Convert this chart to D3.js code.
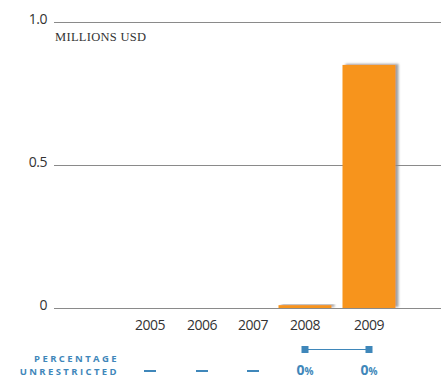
<!DOCTYPE html>
<html>
<head>
<meta charset="utf-8">
<script src="https://cdn.jsdelivr.net/npm/d3@7"></script>
<style>
  body { margin: 0; background: #fff; }
  svg { display: block; }
  .tick-label { font-family: "Open Sans", sans-serif; font-size: 14px; fill: #333; letter-spacing: -0.5px; }
</style>
</head>
<body>
<div id="chart"></div>
<script>
// data
const years = ["2005", "2006", "2007", "2008", "2009"];
const funding = [0, 0, 0, 0.01, 0.85];       // millions USD
const unrestricted = [null, null, null, 0, 0]; // percentage
const yTicks = [0, 0.5, 1.0];

const width = 441, height = 378;
const svg = d3.select("#chart").append("svg")
  .attr("width", width)
  .attr("height", height);

// shadow for the bars
const defs = svg.append("defs");
const f = defs.append("filter").attr("id", "shadow")
  .attr("x", "-20%").attr("y", "-20%").attr("width", "150%").attr("height", "140%");
f.append("feDropShadow")
  .attr("dx", 3).attr("dy", -1)
  .attr("stdDeviation", 1.3)
  .attr("flood-color", "#888")
  .attr("flood-opacity", 0.8);

const x = d3.scaleOrdinal()
  .domain(years)
  .range([150, 202, 253, 305, 369]);
const barW = 53;

const y = d3.scaleLinear()
  .domain([0, 1])
  .range([308, 22]);

// gridlines + labels
svg.selectAll(".grid")
  .data(yTicks)
  .enter().append("line")
  .attr("x1", 54).attr("x2", width)
  .attr("y1", d => y(d) + 0.5).attr("y2", d => y(d) + 0.5)
  .attr("stroke", "#8a8a8a")
  .attr("stroke-width", 1);

svg.selectAll(".ylab")
  .data(yTicks)
  .enter().append("text")
  .attr("class", "tick-label")
  .attr("x", 47)
  .attr("y", d => y(d) + 2)
  .attr("text-anchor", "end")
  .text(d => d === 0 ? "0" : d.toFixed(1));

svg.append("text")
  .attr("x", 55)
  .attr("y", 41)
  .attr("font-family", "Liberation Serif, serif")
  .attr("font-size", 12.5)
  .attr("letter-spacing", "0.3px")
  .attr("fill", "#333")
  .text("MILLIONS USD");

// bars
const data = years.map((d, i) => ({ year: d, value: funding[i], pct: unrestricted[i] }));

svg.selectAll(".bar")
  .data(data.filter(d => d.value > 0))
  .enter().append("rect")
  .attr("class", "bar")
  .attr("x", d => x(d.year) - barW / 2)
  .attr("y", d => y(d.value))
  .attr("width", barW)
  .attr("height", d => y(0) - y(d.value))
  .attr("fill", "#f7941d")
  .attr("filter", "url(#shadow)");

// x labels
svg.selectAll(".xlab")
  .data(years)
  .enter().append("text")
  .attr("class", "tick-label")
  .attr("x", d => x(d))
  .attr("y", 330)
  .attr("text-anchor", "middle")
  .text(d => d);

// percentage unrestricted row
const blue = "#3f87ba";
const lab = svg.append("text")
  .attr("font-family", "Open Sans, sans-serif")
  .attr("font-weight", "bold")
  .attr("font-size", 9.5)
  .attr("letter-spacing", "2.4px")
  .attr("fill", blue)
  .attr("text-anchor", "end");
lab.append("tspan").attr("x", 119).attr("y", 362).text("PERCENTAGE");
lab.append("tspan").attr("x", 119).attr("y", 375).text("UNRESTRICTED");

const withPct = data.filter(d => d.pct !== null);
svg.append("line")
  .attr("x1", x(withPct[0].year)).attr("x2", x(withPct[withPct.length - 1].year))
  .attr("y1", 349.5).attr("y2", 349.5)
  .attr("stroke", blue).attr("stroke-width", 1.2);
svg.selectAll(".mark")
  .data(withPct)
  .enter().append("rect")
  .attr("x", d => x(d.year) - 3.5)
  .attr("y", 346)
  .attr("width", 7).attr("height", 7)
  .attr("fill", blue);

svg.selectAll(".dash")
  .data(data.filter(d => d.pct === null))
  .enter().append("line")
  .attr("x1", d => x(d.year) - 6).attr("x2", d => x(d.year) + 6)
  .attr("y1", 371).attr("y2", 371)
  .attr("stroke", blue).attr("stroke-width", 2);

const pctText = svg.selectAll(".pct")
  .data(withPct)
  .enter().append("text")
  .attr("x", d => x(d.year))
  .attr("y", 375)
  .attr("text-anchor", "middle")
  .attr("font-family", "Open Sans, sans-serif")
  .attr("font-weight", "bold")
  .attr("fill", blue);
pctText.append("tspan").attr("font-size", 14).text(d => d.pct);
pctText.append("tspan").attr("font-size", 10).text("%");
</script>
</body>
</html>
